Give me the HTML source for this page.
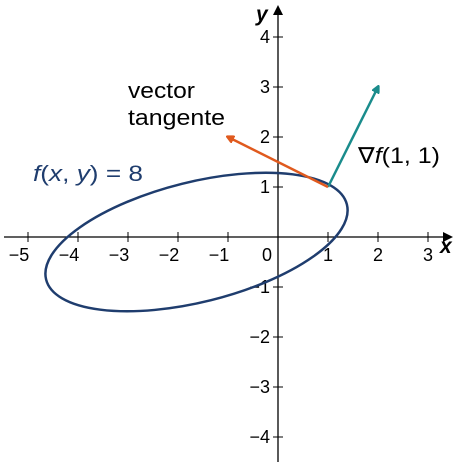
<!DOCTYPE html>
<html><head><meta charset="utf-8"><style>
body{margin:0;background:#fff}
svg{display:block;font-family:"Liberation Sans",sans-serif}
</style></head><body>
<svg id="c" width="456" height="464">
<defs>
<marker id="ah-teal" markerWidth="8" markerHeight="8" refX="6" refY="4" orient="auto" markerUnits="userSpaceOnUse"><path d="M0,0 L8,4 L0,8 Z" fill="#1a8c8c" transform="scale(1.6) translate(-2,-1.5)"/></marker>
<marker id="ah-org" markerWidth="8" markerHeight="8" refX="6" refY="4" orient="auto" markerUnits="userSpaceOnUse"><path d="M0,0 L8,4 L0,8 Z" fill="#e05a1e" transform="scale(1.6) translate(-2,-1.5)"/></marker>
<marker id="ah-ax" markerWidth="10" markerHeight="10" refX="5" refY="5" orient="auto" markerUnits="userSpaceOnUse"><path d="M0,0 L10,5 L0,10 Z" fill="#000"/></marker>
</defs>
</svg>
<script>
const xTicks=[-5,-4,-3,-2,-1,1,2,3];
const yTicks=[-4,-3,-2,-1,1,2,3,4];
const point=[1,1];
const gradTip=[2,3];
const tangentTip=[-1,2];
const ellipseCenter=[-1.63,-0.1];
const ellipseAxes=[3.1,1.2];
const ellipseAngle=-14;
const X=v=>278+v*50, Y=v=>237-v*50;
const s=document.getElementById('c'),NS='http://www.w3.org/2000/svg';
function mk(t,a,txt){const e=document.createElementNS(NS,t);for(const k in a)e.setAttribute(k,a[k]);if(txt!=null)e.textContent=txt;s.appendChild(e);return e;}
let e;
e=mk('line',{x1:4,y1:237,x2:448,y2:237,stroke:'#000','stroke-width':1.3,'marker-end':'url(#ah-ax)'});

e=mk('line',{x1:278,y1:462,x2:278,y2:10,stroke:'#000','stroke-width':1.3,'marker-end':'url(#ah-ax)'});

xTicks.forEach(v=>{
 e=mk('line',{x1:X(v),y1:232,x2:X(v),y2:242,stroke:'#000'});
 
 e=mk('text',{x:X(v)-(v<0?9:0),y:261,'font-size':18,'text-anchor':'middle'},(v<0?'\u2212'+(-v):v));
 
});
yTicks.forEach(v=>{
 e=mk('line',{x1:273,y1:Y(v),x2:283,y2:Y(v),stroke:'#000'});
 
 e=mk('text',{x:270,y:Y(v)+6,'font-size':18,'text-anchor':'end'},(v<0?'\u2212'+(-v):v));
 
});
e=mk('text',{x:262,y:261,'font-size':18},'0');

e=mk('text',{x:440,y:253,'font-size':21,'font-weight':'bold','font-style':'italic'},'x');

e=mk('text',{x:256,y:21,'font-size':21,'font-weight':'bold','font-style':'italic'},'y');

e=mk('ellipse',{cx:X(ellipseCenter[0]),cy:Y(ellipseCenter[1]),rx:ellipseAxes[0]*50,ry:ellipseAxes[1]*50,fill:'none',stroke:'#1f3d6e','stroke-width':2.5,transform:`rotate(${ellipseAngle} ${X(ellipseCenter[0])} ${Y(ellipseCenter[1])})`});

e=mk('line',{x1:X(point[0]),y1:Y(point[1]),x2:X(gradTip[0]),y2:Y(gradTip[1]),stroke:'#1a8c8c','stroke-width':2.5,'marker-end':'url(#ah-teal)'});

e=mk('line',{x1:X(point[0]),y1:Y(point[1]),x2:X(tangentTip[0]),y2:Y(tangentTip[1]),stroke:'#e05a1e','stroke-width':2.5,'marker-end':'url(#ah-org)'});

e=mk('text',{x:128,y:98,'font-size':22,textLength:67,lengthAdjust:'spacingAndGlyphs'},'vector');

e=mk('text',{x:128,y:125,'font-size':22,textLength:97,lengthAdjust:'spacingAndGlyphs'},'tangente');

e=mk('text',{x:358,y:163,'font-size':22,textLength:82,lengthAdjust:'spacingAndGlyphs'},'');
e.innerHTML='\u2207<tspan font-style="italic">f</tspan>(1, 1)';

e=mk('text',{x:33,y:181,'font-size':22,fill:'#1f3d6e',textLength:110,lengthAdjust:'spacingAndGlyphs'},'');
e.innerHTML='<tspan font-style="italic">f</tspan>(<tspan font-style="italic">x</tspan>, <tspan font-style="italic">y</tspan>) = 8';

</script>
</body></html>
